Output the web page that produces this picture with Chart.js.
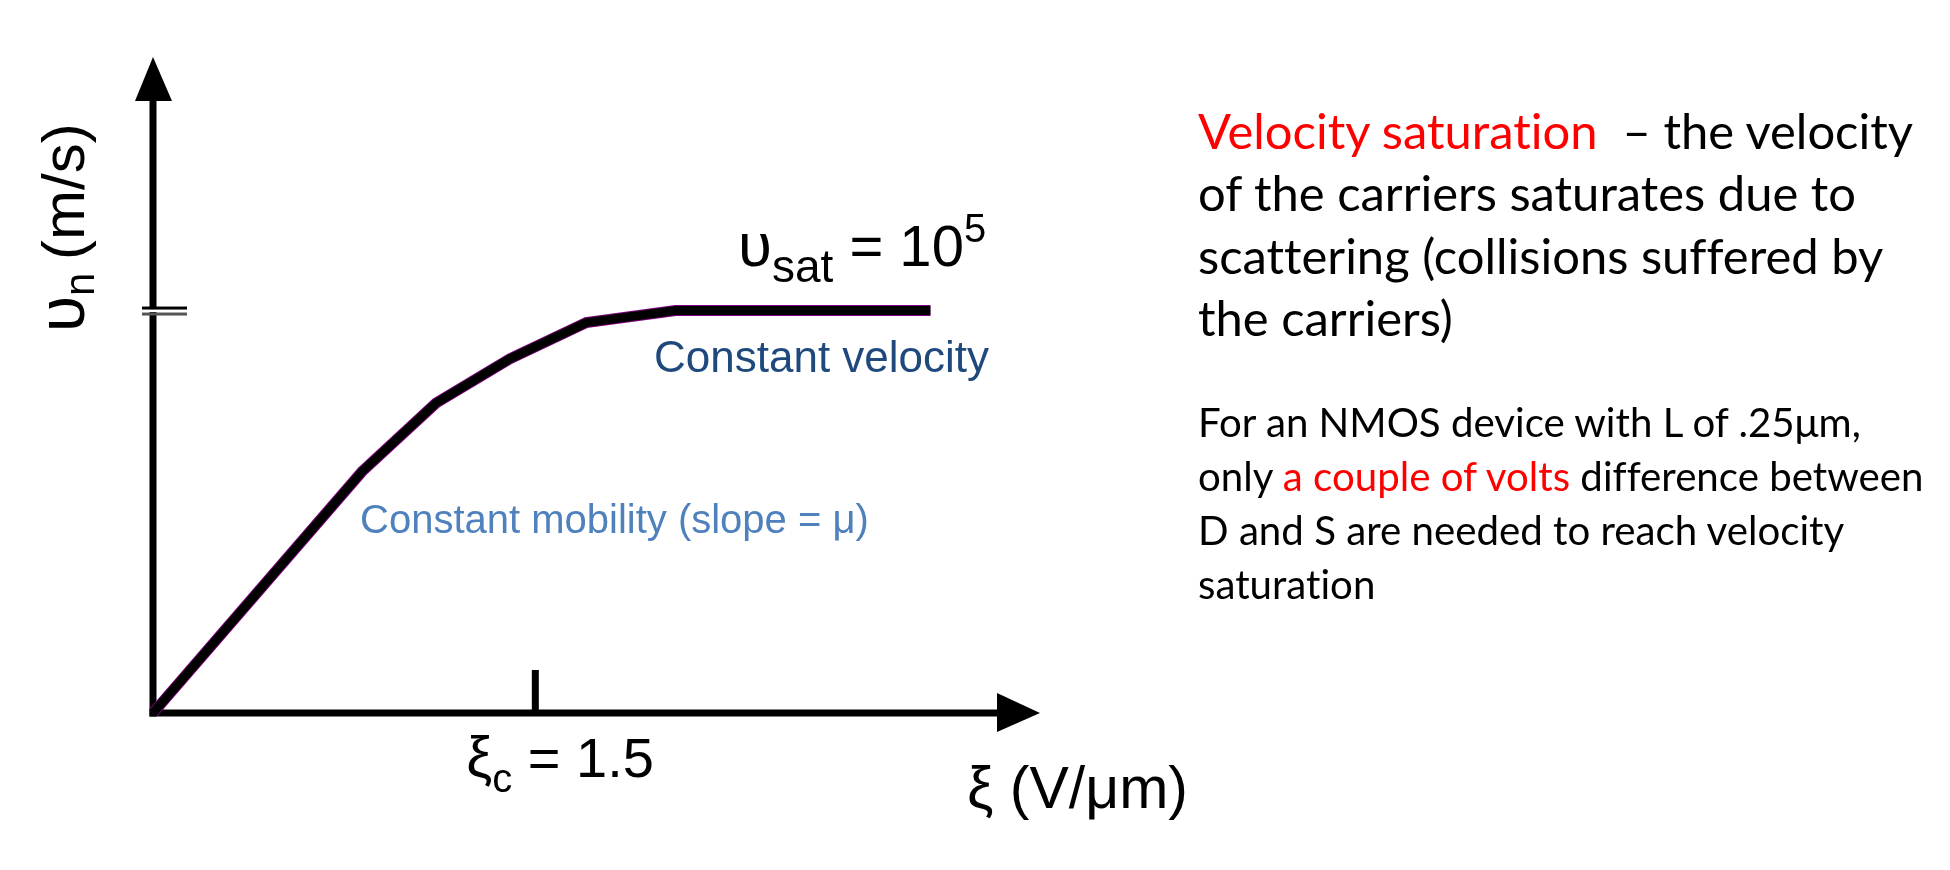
<!DOCTYPE html>
<html>
<head>
<meta charset="utf-8">
<title>Velocity saturation</title>
<script src="https://cdn.jsdelivr.net/npm/chart.js@4.4.1/dist/chart.umd.min.js"></script>
<style>
  html, body { margin: 0; padding: 0; background: #fff; }
  #wrap { position: relative; width: 1950px; height: 870px; overflow: hidden; }
  #chart { position: absolute; left: 0; top: 0; }
  .note { position: absolute; left: 1198px; top: 0; font-family: Lato, "Open Sans", sans-serif; color: #000;
          font-variant-ligatures: none; font-feature-settings: "liga" 0, "clig" 0; }
  .note .line { position: absolute; left: 0; white-space: pre; }
  .red { color: #ff0000; }
</style>
</head>
<body>
<div id="wrap">
  <canvas id="chart" width="1950" height="870"></canvas>
  <div class="note" id="note1"></div>
  <div class="note" id="note2"></div>
</div>
<script>
// electric field (V/µm) and drift velocity (in units of 10^5 m/s)
const fieldValues = [0, 0.82, 1.11, 1.40, 1.70, 2.05, 3.05];
const velocityValues = [0, 0.60, 0.77, 0.88, 0.97, 1.0, 1.0];
const criticalField = 1.5;
const saturationVelocity = 1.0;
const fieldAxisMax = 3.48;
const velocityAxisMax = 1.63;

const points = fieldValues.map((f, i) => ({ x: f, y: velocityValues[i] }));

const sansFont = '"Liberation Sans", Arial, sans-serif';

function drawRuns(ctx, x, baseline, runs) {
  let cx = x;
  runs.forEach(r => {
    ctx.font = r.size + 'px ' + sansFont;
    ctx.fillStyle = r.color || '#000';
    ctx.fillText(r.text, cx, baseline + (r.dy || 0));
    cx += ctx.measureText(r.text).width + (r.gap || 0);
  });
}

const sketchAxes = {
  id: 'sketchAxes',
  beforeDatasetsDraw(chart) {
    const { ctx, scales: { x, y } } = chart;
    const x0 = x.getPixelForValue(0);
    const y0 = y.getPixelForValue(0);
    const xEnd = x.getPixelForValue(fieldAxisMax);
    const yEnd = y.getPixelForValue(velocityAxisMax);
    const ySat = y.getPixelForValue(saturationVelocity);
    const xc = x.getPixelForValue(criticalField);
    ctx.save();
    ctx.fillStyle = '#000';
    ctx.strokeStyle = '#000';
    ctx.lineWidth = 7;
    ctx.lineCap = 'butt';

    // vertical axis + arrow
    ctx.beginPath();
    ctx.moveTo(x0, y0 + 3.5);
    ctx.lineTo(x0, yEnd + 40);
    ctx.stroke();
    ctx.beginPath();
    ctx.moveTo(x0, yEnd);
    ctx.lineTo(x0 - 18, yEnd + 44);
    ctx.lineTo(x0 + 19, yEnd + 44);
    ctx.closePath();
    ctx.fill();

    // horizontal axis + arrow
    ctx.beginPath();
    ctx.moveTo(x0 - 3.5, y0);
    ctx.lineTo(xEnd - 40, y0);
    ctx.stroke();
    ctx.beginPath();
    ctx.moveTo(xEnd, y0);
    ctx.lineTo(xEnd - 43, y0 - 20);
    ctx.lineTo(xEnd - 43, y0 + 19);
    ctx.closePath();
    ctx.fill();

    // tick at critical field
    ctx.beginPath();
    ctx.moveTo(xc, y0);
    ctx.lineTo(xc, y0 - 43);
    ctx.stroke();

    // axis break at saturation velocity
    ctx.fillStyle = '#fff';
    ctx.fillRect(x0 - 5, ySat - 1.5, 10, 3);
    ctx.fillStyle = '#000';
    ctx.fillRect(x0 - 11, ySat - 4, 45, 3);
    ctx.fillStyle = '#555';
    ctx.fillRect(x0 - 11, ySat + 2, 45, 3);
    ctx.restore();
  },
  afterDraw(chart) {
    const { ctx, scales: { x, y } } = chart;
    const xc = x.getPixelForValue(criticalField);
    const ySat = y.getPixelForValue(saturationVelocity);
    ctx.save();
    ctx.textBaseline = 'alphabetic';

    // y axis title (rotated)
    ctx.save();
    ctx.translate(84, 332);
    ctx.rotate(-Math.PI / 2);
    drawRuns(ctx, 0, 0, [
      { text: '\u03C5', size: 66 },
      { text: 'n', size: 42, dy: 10, gap: -4 },
      { text: ' (m/s)', size: 60 }
    ]);
    ctx.restore();

    // critical field label
    drawRuns(ctx, xc - 69, 777, [
      { text: '\u03BE', size: 58 },
      { text: 'c', size: 40, dy: 15 },
      { text: ' = 1.5', size: 56 }
    ]);

    // x axis title
    drawRuns(ctx, 967, 808, [{ text: '\u03BE (V/\u03BCm)', size: 59 }]);

    // saturation velocity label
    drawRuns(ctx, 738, ySat - 45, [
      { text: '\u03C5', size: 62 },
      { text: 'sat', size: 46, dy: 16 },
      { text: ' = 10', size: 58 },
      { text: '5', size: 40, dy: -24 }
    ]);

    drawRuns(ctx, 654, 372, [{ text: 'Constant velocity', size: 44, color: '#1F497D' }]);
    drawRuns(ctx, 360, 533, [{ text: 'Constant mobility (slope = \u03BC)', size: 40, color: '#4F81BD' }]);
    ctx.restore();
  }
};

new Chart(document.getElementById('chart'), {
  type: 'line',
  data: {
    datasets: [
      { data: points, borderColor: '#000', borderWidth: 9, order: 1 },
      { data: points, borderColor: '#800080', borderWidth: 11, order: 2 }
    ]
  },
  options: {
    responsive: false,
    animation: false,
    events: [],
    layout: { padding: { left: 153, top: 57, right: 910, bottom: 157 } },
    plugins: { legend: { display: false }, tooltip: { enabled: false } },
    scales: {
      x: { type: 'linear', display: false, min: 0, max: fieldAxisMax },
      y: { type: 'linear', display: false, min: 0, max: velocityAxisMax }
    },
    elements: {
      point: { radius: 0 },
      line: { tension: 0, borderJoinStyle: 'miter', borderCapStyle: 'butt' }
    },
    datasets: { line: { clip: false } }
  },
  plugins: [sketchAxes]
});

// right-hand notes, real HTML text; font size fitted to the reference line widths
const note1Lines = [
  [['Velocity saturation', true], ['  \u2013 the velocity', false]],
  [['of the carriers saturates due to', false]],
  [['scattering (collisions suffered by', false]],
  [['the carriers)', false]]
];
const note1Baselines = [150, 212, 275, 337];
const note2Lines = [
  [['For an NMOS device with L of .25\u03BCm,', false]],
  [['only ', false], ['a couple of volts', true], [' difference between', false]],
  [['D and S are needed to reach velocity', false]],
  [['saturation', false]]
];
const note2Baselines = [438, 492, 546, 600];

function buildNote(id, lines, baselines, fitLine, fitWidth) {
  const family = 'Lato, "Open Sans", sans-serif';
  const mc = document.createElement('canvas').getContext('2d');
  mc.font = '100px ' + family;
  const fitText = lines[fitLine].map(s => s[0]).join('');
  const m = mc.measureText(fitText);
  const size = 100 * fitWidth / m.width;
  const asc = (m.fontBoundingBoxAscent || 98.7) * size / 100;
  const desc = (m.fontBoundingBoxDescent || 21.3) * size / 100;
  const el = document.getElementById(id);
  el.style.fontSize = size + 'px';
  lines.forEach((segs, i) => {
    const d = document.createElement('div');
    d.className = 'line';
    d.style.lineHeight = size + 'px';
    d.style.top = (baselines[i] - ((size - asc - desc) / 2 + asc)) + 'px';
    segs.forEach(([t, red]) => {
      const s = document.createElement('span');
      s.textContent = t;
      if (red) s.className = 'red';
      d.appendChild(s);
    });
    el.appendChild(d);
  });
}
buildNote('note1', note1Lines, note1Baselines, 1, 659);
buildNote('note2', note2Lines, note2Baselines, 1, 727);
</script>
</body>
</html>
